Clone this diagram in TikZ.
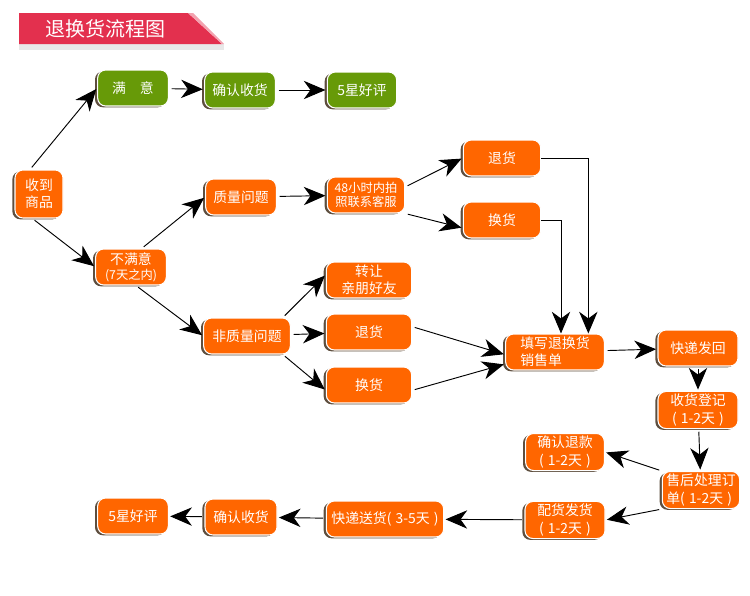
\documentclass[tikz,border=0pt]{standalone}
\usepackage{fontspec}
\setmainfont{Noto Sans CJK SC}
\usetikzlibrary{arrows.meta,shadows}
\definecolor{chengse}{HTML}{FF6600}
\definecolor{lvse}{HTML}{679A08}
\definecolor{biaoti}{HTML}{E3304E}
\definecolor{yinying}{HTML}{5E4E3E}
\newcommand\petitcorps{\fontsize{9.2}{11}\selectfont}
\newcommand\duree[1]{(\hspace{0.3em}#1\hspace{0.3em})}

\begin{document}
\begin{tikzpicture}[
    x=0.75pt, y=-0.75pt, font=\fontsize{10.4}{13}\selectfont,
    bloc/.style={draw=white, line width=0.8pt, rounded corners=6pt, minimum height=27pt, minimum width=53pt,
      align=center, fill=chengse, text=white, inner sep=2pt,
      drop shadow={shadow xshift=-2pt, shadow yshift=-1pt, fill=yinying, opacity=1}},
    vert/.style={bloc, fill=lvse},
    petit/.style={font=\petitcorps},
    pointe/.style={-{Stealth[length=13pt,width=11pt,inset=4pt,scale=1.25]}, line width=0.7pt},
    fleche/.style={pointe, shorten <=2pt, shorten >=1pt},
  ]
  \useasboundingbox (0,0) rectangle (750,596);

  % bandeau du titre
  \fill[gray!18] (19,44) rectangle (224,50);
  \fill[biaoti] (19,13) -- (188,13) -- (222,44) -- (19,44) -- cycle;
  \fill[biaoti!45] (188,13) -- (193,13) -- (224,44) -- (222,44) -- cycle;
  \node[text=white, font=\fontsize{15}{17}\selectfont] (titre) at (105,29) {退换货流程图};

  % noeuds
  \node[bloc, minimum width=36pt, minimum height=36pt] (recu) at (39,194) {收到\\商品};
  \node[vert] (satis) at (133,88) {满\hspace{1em}意};
  \node[vert] (conf1) at (240,90) {确认收货};
  \node[vert, minimum width=52pt] (eval1) at (362,90) {5星好评};
  \node[bloc] (insat) at (131,267) {不满意\\[-2pt]{\petitcorps (7天之内)}};
  \node[bloc] (qual) at (241,197) {质量问题};
  \node[bloc, minimum width=58pt, petit] (photo) at (366,195) {48小时内拍\\照联系客服};
  \node[bloc, minimum width=58pt] (ret1) at (502,158) {退货};
  \node[bloc, minimum width=58pt] (ech1) at (502,220) {换货};
  \node[bloc, minimum width=65pt] (nqual) at (247,336) {非质量问题};
  \node[bloc, minimum width=64pt] (cede) at (369,280) {转让\\亲朋好友};
  \node[bloc, minimum width=64pt] (ret2) at (369,332) {退货};
  \node[bloc, minimum width=64pt] (ech2) at (369,385) {换货};
  \node[bloc, minimum width=74pt, align=left] (fiche) at (555,352) {填写退换货\\销售单};
  \node[bloc, minimum width=60pt] (renv) at (698,348) {快递发回};
  \node[bloc, minimum width=60pt] (recep) at (698,410) {收货登记\\\duree{1-2天}};
  \node[bloc, minimum width=59pt] (rembt) at (565,452) {确认退款\\\duree{1-2天}};
  \node[bloc, minimum width=58pt, align=left] (trait) at (701,490) {售后处理订\\单\duree{1-2天}};
  \node[bloc, minimum width=60pt] (prep) at (565,520) {配货发货\\\duree{1-2天}};
  \node[bloc, minimum width=88pt] (livr) at (385,519) {快递送货\duree{3-5天}};
  \node[bloc, minimum width=54pt] (conf2) at (241,517) {确认收货};
  \node[bloc] (eval2) at (133,516) {5星好评};

  % liaisons
  \draw[fleche] (recu.110) -- (satis.west);
  \draw[fleche] (recu.-105) -- (insat.west);
  \draw[fleche] (satis) -- (conf1);
  \draw[fleche] (conf1) -- (eval1);
  \draw[fleche] (insat.60) -- (qual.west);
  \draw[fleche] (insat.-75) -- (nqual.west);
  \draw[fleche] (qual) -- (photo);
  \draw[fleche] ([yshift=6pt]photo.east) -- (ret1.west);
  \draw[fleche] (photo.south east) -- ([yshift=-6pt]ech1.west);
  \draw[pointe] (ret1.east) -| ([xshift=25pt]fiche.north);
  \draw[pointe] (ech1.east) -| ([xshift=4.5pt]fiche.north);
  \draw[fleche] ([xshift=-6pt]nqual.north east) -- ([yshift=4pt]cede.west);
  \draw[fleche] (nqual) -- (ret2);
  \draw[fleche] ([xshift=-6pt]nqual.south east) -- ([yshift=-4pt]ech2.west);
  \draw[fleche] ([yshift=4pt]ret2.east) -- ([yshift=-2pt]fiche.west);
  \draw[fleche] ([yshift=-4pt]ech2.east) -- ([yshift=-9pt]fiche.west);
  \draw[fleche] (fiche) -- (renv);
  \draw[fleche] (renv) -- (recep);
  \draw[fleche] (recep) -- (trait);
  \draw[fleche] (trait.north west) -- (rembt.east);
  \draw[fleche] (trait.south west) -- (prep.east);
  \draw[fleche] (prep) -- (livr);
  \draw[fleche] (livr) -- (conf2);
  \draw[fleche] (conf2) -- (eval2);
\end{tikzpicture}
\end{document}
